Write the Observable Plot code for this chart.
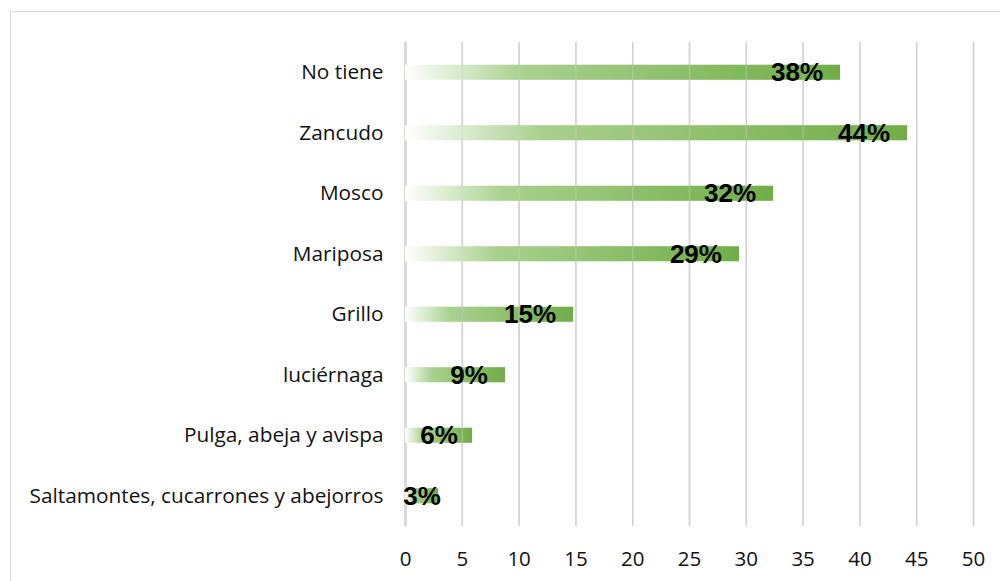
<!DOCTYPE html>
<html><head><meta charset="utf-8">
<script src="https://cdn.jsdelivr.net/npm/d3@7"></script>
<script src="https://cdn.jsdelivr.net/npm/@observablehq/plot@0.6"></script>
<style>
html,body{margin:0;padding:0;background:#fff;overflow:hidden;width:1000px;height:581px}
#frame{position:absolute;left:10px;top:11px;width:1100px;height:700px;border:1.5px solid #d9d9d9}
#chart{position:absolute;left:0;top:0}
</style></head><body><div id="frame"></div><div id="chart"></div>
<script>
const categories = ["No tiene", "Zancudo", "Mosco", "Mariposa", "Grillo", "luciérnaga", "Pulga, abeja y avispa", "Saltamontes, cucarrones y abejorros"];
const values = [38.3, 44.2, 32.4, 29.4, 14.8, 8.8, 5.9, 2.9];
const xTicks = [0, 5, 10, 15, 20, 25, 30, 35, 40, 45, 50];

const data = categories.map((c, i) => ({category: c, value: values[i], label: Math.round(values[i]) + "%"}));
const labelW = l => l.length === 2 ? 3.4 : 4.67;
const labelX = d => {
  const w = labelW(d.label);
  return d.value >= w + 3 ? d.value - 1.5 - w / 2 : d.value / 2;
};

const defs = () => {
  const g = d3.create("svg:defs");
  const lg = g.append("linearGradient").attr("id", "barGrad").attr("x1", 0).attr("x2", 1).attr("y1", 0).attr("y2", 0);
  lg.append("stop").attr("offset", 0).attr("stop-color", "#ffffff");
  lg.append("stop").attr("offset", 0.27).attr("stop-color", "#a9d18e");
  lg.append("stop").attr("offset", 1).attr("stop-color", "#70ad47");
  return g.node();
};

const chart = Plot.plot({
  width: 1000, height: 581,
  marginLeft: 405, marginRight: 27, marginTop: 42, marginBottom: 55,
  style: {fontFamily: "'Open Sans', sans-serif", background: "transparent", color: "#000"},
  x: {domain: [0, 50], ticks: xTicks, label: null},
  y: {domain: categories, paddingInner: 0.75, paddingOuter: 0.375, round: false, label: null},
  marks: [
    defs,
    Plot.gridX(xTicks.slice(1), {stroke: "#d0d0d0", strokeOpacity: 1, strokeWidth: 1.5}),
    Plot.ruleX([0], {stroke: "#d9d9d9", strokeWidth: 3}),
    Plot.barX(data, {x: "value", y: "category", fill: "url(#barGrad)"}),
    Plot.gridX(xTicks.slice(1), {stroke: "#d0d0d0", strokeOpacity: 0.35, strokeWidth: 1.5}),
    Plot.axisX({ticks: xTicks, tickSize: 0, tickPadding: 25, fontSize: 20.5, tickFormat: d => d, fill: "#111", label: null}),
    Plot.axisY({tickSize: 0, tickPadding: 22, fontSize: 20.8, fill: "#111", label: null}),
    Plot.text(data, {x: labelX, y: "category", text: "label", textAnchor: "middle", lineAnchor: "middle",
      fontFamily: "'Liberation Sans', Arial, sans-serif", fontWeight: "bold", fontSize: 26, fill: "#000"})
  ]
});
document.getElementById("chart").appendChild(chart);
</script>
</body></html>
